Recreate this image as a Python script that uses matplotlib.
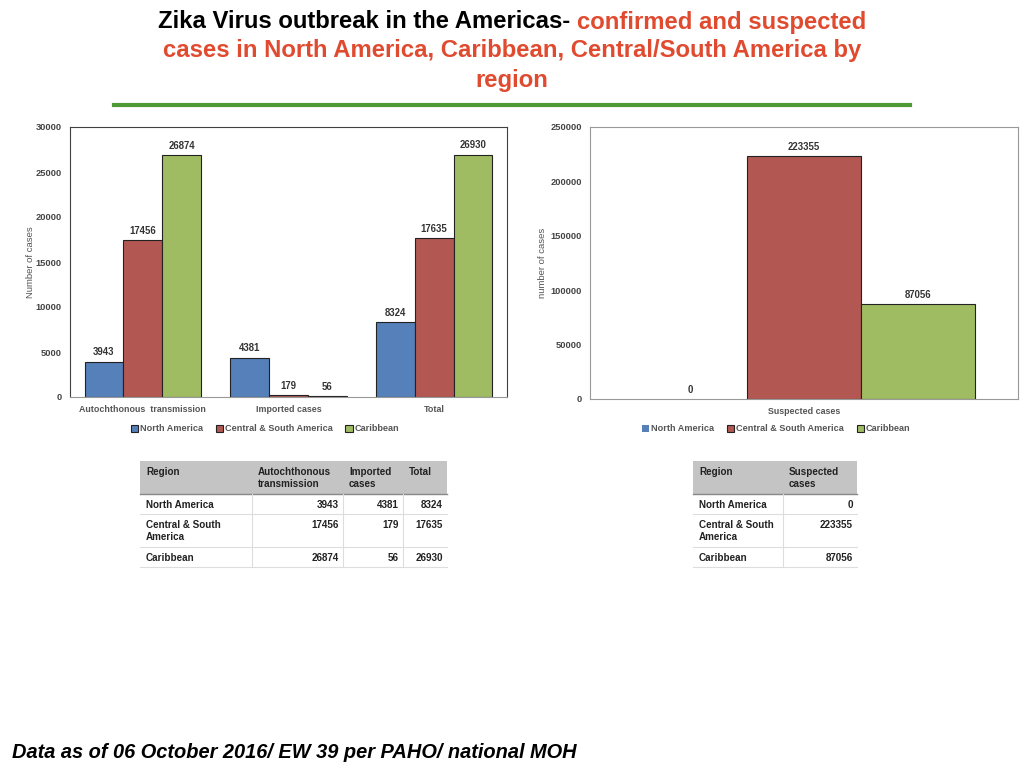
import matplotlib
matplotlib.use("Agg")
import matplotlib.pyplot as plt
from matplotlib.patches import Rectangle
from matplotlib.lines import Line2D
import numpy as np

plt.rcParams["font.family"] = ["Liberation Sans", "DejaVu Sans"]

# data
regions = ["North America", "Central & South America", "Caribbean"]
categories = ["Autochthonous  transmission", "Imported cases", "Total"]
autochthonous = [3943, 17456, 26874]
imported = [4381, 179, 56]
total = [8324, 17635, 26930]
suspected = [0, 223355, 87056]

colors = ["#5580B9", "#B25752", "#A0BC63"]
edge = "#222222"
title_black = "Zika Virus outbreak in the Americas- "
title_red = ["confirmed and suspected",
             "cases in North America, Caribbean, Central/South America by",
             "region"]
footer = "Data as of 06 October 2016/ EW 39 per PAHO/ national MOH"

fig = plt.figure(figsize=(10.24, 7.68), dpi=100)

# ---- left chart: confirmed cases
ax1 = fig.add_axes([70 / 1024, 1 - 397 / 768, 437 / 1024, 270 / 768])
series = np.array([autochthonous, imported, total]).T  # region x category
x = np.arange(len(categories))
w = 0.8 / 3
for i, reg in enumerate(regions):
    bars = ax1.bar(x + (i - 1) * w, series[i], w, color=colors[i],
                   edgecolor=edge, linewidth=0.8, label=reg)
    for b, v in zip(bars, series[i]):
        ax1.annotate(str(v), (b.get_x() + b.get_width() / 2, v),
                     xytext=(0, 3), textcoords="offset points",
                     ha="center", va="bottom", fontsize=6.9,
                     fontweight="bold", color="#333333")
ax1.set_xlim(-0.5, 2.5)
ax1.set_ylim(0, 30000)
ax1.set_yticks(range(0, 30001, 5000))
ax1.set_xticks(x)
ax1.set_xticklabels(categories)
ax1.set_ylabel("Number of cases", fontsize=6.8, color="#555555", labelpad=0.5)

# ---- right chart: suspected cases
ax2 = fig.add_axes([590 / 1024, 1 - 399 / 768, 428 / 1024, 272 / 768])
for i, reg in enumerate(regions):
    bars = ax2.bar([(i - 1) * w], [suspected[i]], w, color=colors[i],
                   edgecolor=edge if suspected[i] else "none",
                   linewidth=0.8, label=reg)
    ax2.annotate(str(suspected[i]), ((i - 1) * w, suspected[i]),
                 xytext=(0, 3), textcoords="offset points",
                 ha="center", va="bottom", fontsize=6.9,
                 fontweight="bold", color="#333333")
ax2.set_xlim(-0.5, 0.5)
ax2.set_ylim(0, 250000)
ax2.set_yticks(range(0, 250001, 50000))
ax2.set_xticks([0])
ax2.set_xticklabels(["Suspected cases"])
ax2.set_ylabel("number of cases", fontsize=6.8, color="#555555", labelpad=2)

for ax, spine_col in ((ax1, "#404040"), (ax2, "#999999")):
    for s in ax.spines.values():
        s.set_color(spine_col)
        s.set_linewidth(0.8)
    ax.spines["bottom"].set_color("#999999")
    ax.tick_params(length=0, labelsize=6.7, colors="#444444", pad=6)
    for t in ax.get_yticklabels() + ax.get_xticklabels():
        t.set_fontweight("bold")
    for t in ax.get_xticklabels():
        t.set_color("#555555")
        t.set_fontsize(6.4)

leg_kw = dict(ncol=3, frameon=False, fontsize=6.6, handlelength=0.8,
              handleheight=0.8, handletextpad=0.2, columnspacing=1.4)
leg1 = ax1.legend(loc="center", bbox_to_anchor=(0.446, -0.118), **leg_kw)
leg2 = ax2.legend(loc="center", bbox_to_anchor=(0.435, -0.11), **leg_kw)
for leg in (leg1, leg2):
    for t in leg.get_texts():
        t.set_fontweight("bold")
        t.set_color("#555555")

# ---- overlay for title, tables and footer (pixel coordinates)
ov = fig.add_axes([0, 0, 1, 1])
ov.set_xlim(0, 1024)
ov.set_ylim(768, 0)
ov.axis("off")
ov.patch.set_visible(False)

fig.canvas.draw()
renderer = fig.canvas.get_renderer()
tfs = 17.2
tb = ov.text(0, 22, title_black, fontsize=tfs, fontweight="bold",
             color="black", ha="left", va="center")
tr = ov.text(0, 22, title_red[0], fontsize=tfs, fontweight="bold",
             color="#E04B30", ha="left", va="center")
wb = tb.get_window_extent(renderer).width
wr = tr.get_window_extent(renderer).width
x0 = 512 - (wb + wr) / 2
tb.set_x(x0)
tr.set_x(x0 + wb)
ov.text(512, 51, title_red[1], fontsize=tfs, fontweight="bold",
        color="#E04B30", ha="center", va="center")
ov.text(512, 80, title_red[2], fontsize=tfs, fontweight="bold",
        color="#E04B30", ha="center", va="center")
ov.add_line(Line2D([114, 910], [105, 105], color="#4E9A34", linewidth=3))

ov.text(12, 752, footer, fontsize=14.4, fontweight="bold", style="italic",
        ha="left", va="center")

# tables
tfont = dict(fontsize=7.1, fontweight="bold", color="#222222")
row_edges = [461, 494, 514, 547, 567]
row_labels = ["North America", "Central & South\nAmerica", "Caribbean"]


def draw_table(col_edges, headers, columns):
    left, right = col_edges[0], col_edges[-1]
    ov.add_patch(Rectangle((left, row_edges[0]), right - left,
                           row_edges[1] - row_edges[0],
                           facecolor="#C4C4C4", edgecolor="none"))
    ov.add_line(Line2D([left, right], [row_edges[1]] * 2,
                       color="#888888", linewidth=1))
    for y in row_edges[2:]:
        ov.add_line(Line2D([left, right], [y, y], color="#DDDDDD", linewidth=0.8))
    for xe in col_edges[1:-1]:
        ov.add_line(Line2D([xe, xe], [row_edges[1], row_edges[-1]],
                           color="#DDDDDD", linewidth=0.8))
    for j, h in enumerate(headers):
        ov.text(col_edges[j] + 6, row_edges[0] + 6, h, ha="left", va="top",
                linespacing=1.3, **tfont)
    for r, lab in enumerate(row_labels):
        top = row_edges[r + 1]
        ov.text(col_edges[0] + 6, top + 6, lab, ha="left", va="top",
                linespacing=1.3, **tfont)
        for j, col in enumerate(columns):
            ov.text(col_edges[j + 2] - 4, top + 6, str(col[r]), ha="right",
                    va="top", **tfont)


draw_table([140, 252, 343, 403, 447],
           ["Region", "Autochthonous\ntransmission", "Imported\ncases", "Total"],
           [autochthonous, imported, total])
draw_table([693, 783, 857], ["Region", "Suspected\ncases"], [suspected])

fig.savefig("out.png", dpi=100)
